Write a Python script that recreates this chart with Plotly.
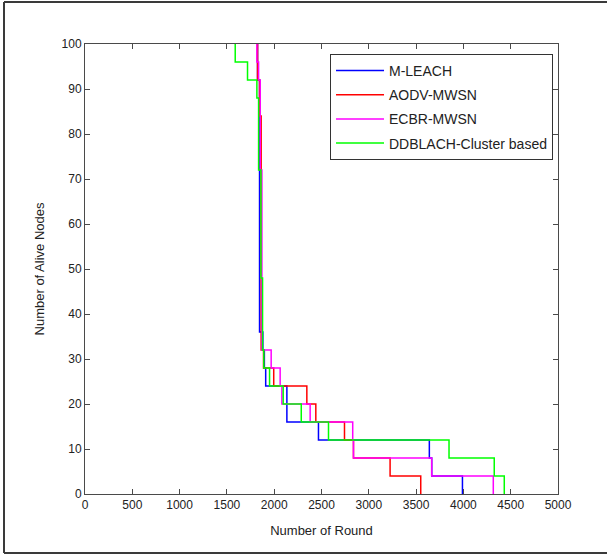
import plotly.graph_objects as go

# Round at which the number of alive nodes drops, and the count after that drop
mleach_round = [1824, 1845, 1880, 1896, 1910, 2134, 2468, 3640, 3665, 3990]
mleach_alive = [92, 36, 32, 28, 24, 16, 12, 8, 4, 0]

aodv_round = [1824, 1845, 1862, 1887, 1995, 2345, 2440, 2743, 2838, 3225, 3549]
aodv_alive = [92, 84, 32, 28, 24, 20, 16, 12, 8, 4, 0]

ecbr_round = [1817, 1835, 1852, 1870, 1968, 2063, 2081, 2380, 2830, 2838, 3665, 4316]
ecbr_alive = [96, 92, 72, 32, 28, 24, 20, 16, 12, 8, 4, 0]

ddb_round = [1588, 1718, 1817, 1835, 1860, 1877, 1890, 1951, 2095, 2286, 2574, 3848, 4326, 4432]
ddb_alive = [96, 92, 88, 72, 48, 32, 28, 24, 20, 16, 12, 8, 4, 0]

initial_nodes = 100

series = [
    ("M-LEACH", mleach_round, mleach_alive, "#0000ff"),
    ("AODV-MWSN", aodv_round, aodv_alive, "#ff0000"),
    ("ECBR-MWSN", ecbr_round, ecbr_alive, "#ff00ff"),
    ("DDBLACH-Cluster based", ddb_round, ddb_alive, "#00ff00"),
]

fig = go.Figure()
for name, rounds, alive, color in series:
    # start with the full node population at the first drop, then step down
    xs = [rounds[0]] + rounds
    ys = [initial_nodes] + alive
    fig.add_trace(go.Scatter(
        x=xs, y=ys, mode="lines", name=name, legendgroup=name,
        line=dict(color=color, width=1.5, shape="hv"),
    ))

font_family = "Liberation Sans, Arial, sans-serif"
axis_color = "#4a4a4a"

fig.update_layout(
    width=612, height=555,
    margin=dict(l=85, r=54, t=44, b=61),
    paper_bgcolor="white", plot_bgcolor="white",
    font=dict(family=font_family, size=12, color="#222222"),
    showlegend=True,
    legend=dict(
        x=0.518, y=0.978, xanchor="left", yanchor="top",
        bgcolor="white", bordercolor="#333333", borderwidth=1,
        font=dict(family=font_family, size=14, color="#222222"),
        tracegroupgap=3, itemwidth=48,
    ),
    xaxis=dict(
        range=[0, 5000], dtick=500, tick0=0,
        showgrid=False, zeroline=False,
        showline=True, linecolor=axis_color, linewidth=1, mirror="ticks",
        ticks="inside", ticklen=5, tickcolor=axis_color,
        tickfont=dict(size=12),
        title=dict(text="Number of Round", font=dict(size=13), standoff=14),
    ),
    yaxis=dict(
        range=[0, 100], dtick=10, tick0=0,
        showgrid=False, zeroline=False,
        showline=True, linecolor=axis_color, linewidth=1, mirror="ticks",
        ticks="inside", ticklen=5, tickcolor=axis_color,
        tickfont=dict(size=12),
        title=dict(text="Number of Alive Nodes", font=dict(size=13), standoff=14),
    ),
)

# frame around the figure
frame = dict(type="line", xref="paper", yref="paper", line=dict(color="#3a3a3a", width=2))
x_left = -81 / 473
x_right = 1 + 49 / 473
y_top = 1 + 42 / 450
y_bot = -59 / 450
fig.add_shape(x0=x_left, x1=x_left, y0=y_bot, y1=y_top, **frame)
fig.add_shape(x0=x_left, x1=x_right, y0=y_top, y1=y_top, **frame)
fig.add_shape(x0=x_left, x1=x_right, y0=y_bot, y1=y_bot, **frame)

fig.write_html("out.html")
